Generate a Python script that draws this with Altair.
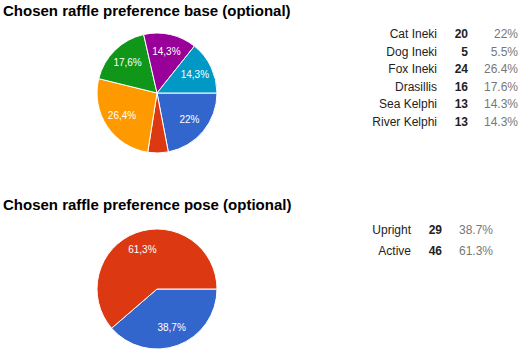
import math
import altair as alt
import pandas as pd

# ---- data ----
base_names = ["Cat Ineki", "Dog Ineki", "Fox Ineki", "Drasillis", "Sea Kelphi", "River Kelphi"]
base_counts = [20, 5, 24, 16, 13, 13]
pose_names = ["Upright", "Active"]
pose_counts = [29, 46]
titles = ["Chosen raffle preference base (optional)", "Chosen raffle preference pose (optional)"]

# ---- style ----
palette = ["#3366cc", "#dc3912", "#ff9900", "#109618", "#990099", "#0099c6"]
FONT = "Liberation Sans"


def make_df(names, counts):
    total = sum(counts)
    rows = []
    for i, (n, c) in enumerate(zip(names, counts)):
        p = round(c / total * 100, 1)
        rows.append({
            "name": n, "value": c, "idx": i, "row": i,
            "color": palette[i],
            "pct": p,
            "pct_txt": f"{p:g}%",
            "pie_txt": f"{p:g}%".replace(".", ","),
        })
    return pd.DataFrame(rows)


theta_scale = alt.Scale(range=[math.pi / 2, math.pi / 2 + 2 * math.pi])


def group(df, cx, cy, name_x, count_x, pct_x, y_range):
    base = alt.Chart(df).encode(
        theta=alt.Theta("value:Q", stack="normalize", scale=theta_scale),
        order=alt.Order("idx:Q"),
    )
    arc = base.mark_arc(outerRadius=60, stroke="white", strokeWidth=1).encode(
        color=alt.Color("color:N", scale=None),
        x=alt.value(cx), y=alt.value(cy),
    )
    lab = base.mark_text(radius=42, font=FONT, fontSize=10, color="white").encode(
        text="pie_txt:N", x=alt.value(cx), y=alt.value(cy),
        opacity=alt.condition("datum.pct >= 8", alt.value(1), alt.value(0)),
    )
    yenc = alt.Y("row:Q", scale=alt.Scale(domain=[0, len(df) - 1], range=y_range), axis=None)
    leg = alt.Chart(df)
    name = leg.mark_text(align="right", baseline="middle", font=FONT, fontSize=12, color="#222222").encode(
        x=alt.value(name_x), y=yenc, text="name:N")
    cnt = leg.mark_text(align="right", baseline="middle", font=FONT, fontSize=12, fontWeight="bold", color="#222222").encode(
        x=alt.value(count_x), y=yenc, text="value:Q")
    pct = leg.mark_text(align="right", baseline="middle", font=FONT, fontSize=12, color="#777777").encode(
        x=alt.value(pct_x), y=yenc, text="pct_txt:N")
    return alt.layer(arc, lab, name, cnt, pct)


g1 = group(make_df(base_names, base_counts), 157, 93, 437, 468, 518, [34, 121.5])
g2 = group(make_df(pose_names, pose_counts), 157, 289, 411, 442, 493, [230, 250.7])

tdf = pd.DataFrame({"t": titles, "k": [0, 1]})
title_layer = alt.Chart(tdf).mark_text(
    align="left", baseline="middle", font=FONT, fontSize=15, fontWeight="bold", color="#000000"
).encode(
    x=alt.value(3),
    y=alt.Y("k:Q", scale=alt.Scale(domain=[0, 1], range=[11, 205]), axis=None),
    text="t:N",
)

chart = alt.layer(title_layer, g1, g2).resolve_scale(
    y="independent", theta="independent"
).properties(
    width=527, height=357, autosize=alt.AutoSizeParams(type="none"), padding=0,
    background="white",
).configure_view(stroke=None)

chart.save("out.html", embed_options={"renderer": "svg", "actions": False})
